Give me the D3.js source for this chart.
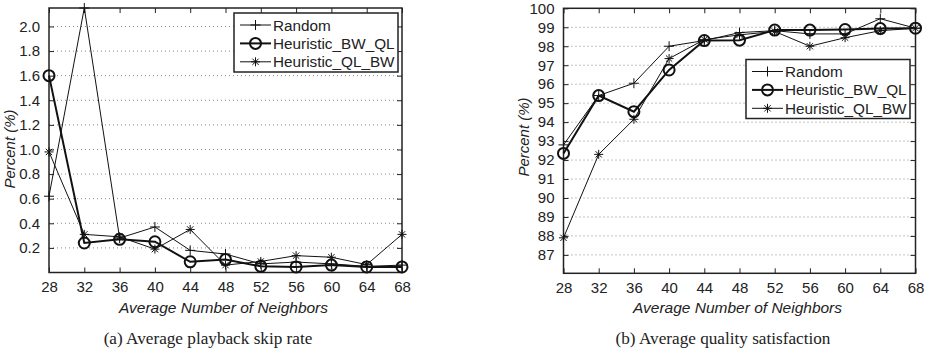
<!DOCTYPE html>
<html>
<head>
<meta charset="utf-8">
<style>
  body { margin: 0; background: #fff; }
  svg text { fill: #222; }
</style>
</head>
<body>
<div id="chart"></div>
<script src="https://d3js.org/d3.v7.min.js"></script>
<script>
    // x values shared by both panels
    const neighbors = [28, 32, 36, 40, 44, 48, 52, 56, 60, 64, 68];

    // (a) playback skip rate, percent
    const skipRandom = [0.62, 2.15, 0.28, 0.37, 0.18, 0.15, 0.07, 0.085, 0.07, 0.05, 0.06];
    const skipBwQl   = [1.60, 0.24, 0.27, 0.25, 0.087, 0.105, 0.05, 0.045, 0.06, 0.045, 0.045];
    const skipQlBw   = [0.98, 0.31, 0.29, 0.19, 0.35, 0.06, 0.09, 0.137, 0.124, 0.064, 0.31];

    // (b) quality satisfaction, percent
    const qualRandom = [92.8, 95.4, 96.05, 98.0, 98.3, 98.72, 98.82, 98.65, 98.65, 99.45, 98.95];
    const qualBwQl   = [92.35, 95.4, 94.55, 96.75, 98.3, 98.32, 98.85, 98.85, 98.88, 98.93, 98.95];
    const qualQlBw   = [87.9, 92.3, 94.15, 97.35, 98.35, 98.6, 98.78, 98.0, 98.45, 98.82, 98.95];

    const skipTicks = [0.2, 0.4, 0.6, 0.8, 1.0, 1.2, 1.4, 1.6, 1.8, 2.0];
    const qualTicks = [87, 88, 89, 90, 91, 92, 93, 94, 95, 96, 97, 98, 99, 100];

    const seriesNames = ['Random', 'Heuristic_BW_QL', 'Heuristic_QL_BW'];
    const seriesMarkers = ['plus', 'circle', 'star'];
    const seriesWidths = [1, 2, 1];

    const svg = d3.select('#chart')
        .append('svg')
        .attr('width', 929)
        .attr('height', 350);

    function drawMarker(g, type, x, y) {
        if (type === 'plus') {
            g.append('path')
                .attr('d', `M${x - 5},${y}H${x + 5}M${x},${y - 5}V${y + 5}`)
                .attr('stroke', '#111').attr('stroke-width', 1);
        } else if (type === 'circle') {
            g.append('circle')
                .attr('cx', x).attr('cy', y).attr('r', 5.5)
                .attr('fill', 'none').attr('stroke', '#111').attr('stroke-width', 2);
        } else {
            const r = 4.5, d = r * 0.7;
            g.append('path')
                .attr('d', `M${x - r},${y}H${x + r}M${x},${y - r}V${y + r}` +
                    `M${x - d},${y - d}L${x + d},${y + d}M${x - d},${y + d}L${x + d},${y - d}`)
                .attr('stroke', '#111').attr('stroke-width', 1);
        }
    }

    function drawPanel(opt) {
        const x = d3.scaleLinear().domain([28, 68]).range([opt.left, opt.right]);
        const y = d3.scaleLinear().domain(opt.yDomain).range([opt.bottom, opt.top]);
        const g = svg.append('g');

        // horizontal dotted grid
        g.selectAll('.grid')
            .data(opt.yTicks.filter(t => t < opt.yDomain[1]))
            .enter().append('line')
            .attr('x1', opt.left).attr('x2', opt.right)
            .attr('y1', d => y(d)).attr('y2', d => y(d))
            .attr('stroke', '#888').attr('stroke-width', 1)
            .attr('stroke-dasharray', '1,3');

        // axes
        const xAxis = d3.axisBottom(x).tickValues(neighbors).tickSize(-5).tickPadding(9);
        const xAxisTop = d3.axisTop(x).tickValues(neighbors).tickSize(-5).tickFormat('');
        const yAxis = d3.axisLeft(y).tickValues(opt.yTicks).tickSize(-5).tickPadding(9)
            .tickFormat(opt.yFormat);
        const yAxisRight = d3.axisRight(y).tickValues(opt.yTicks).tickSize(-5).tickFormat('');

        [[xAxis, `translate(0,${opt.bottom})`], [xAxisTop, `translate(0,${opt.top})`],
         [yAxis, `translate(${opt.left},0)`], [yAxisRight, `translate(${opt.right},0)`]]
            .forEach(([ax, tr]) => {
                const a = g.append('g').attr('transform', tr).call(ax);
                a.select('.domain').remove();
                a.selectAll('line').attr('stroke', '#222');
                a.selectAll('text').attr('font-family', 'Liberation Sans, Arial, sans-serif')
                    .attr('font-size', 15).attr('fill', '#222');
            });

        g.append('rect')
            .attr('x', opt.left).attr('y', opt.top)
            .attr('width', opt.right - opt.left).attr('height', opt.bottom - opt.top)
            .attr('fill', 'none').attr('stroke', '#222').attr('stroke-width', 1.5);

        // series lines and markers
        const line = d3.line().x((d, i) => x(neighbors[i])).y(d => y(d));
        opt.series.forEach((vals, si) => {
            g.append('path')
                .datum(vals)
                .attr('d', line)
                .attr('fill', 'none')
                .attr('stroke', '#111')
                .attr('stroke-width', seriesWidths[si]);
            vals.forEach((v, i) => drawMarker(g, seriesMarkers[si], x(neighbors[i]), y(v)));
        });

        // labels
        g.append('text')
            .attr('transform', `translate(${opt.yLabelX},${opt.yLabelY}) rotate(-90)`)
            .attr('text-anchor', 'middle')
            .attr('font-family', 'Liberation Sans, Arial, sans-serif')
            .attr('font-style', 'italic').attr('font-size', 15)
            .text('Percent (%)');

        g.append('text')
            .attr('x', (opt.left + opt.right) / 2 - 2).attr('y', 313)
            .attr('text-anchor', 'middle')
            .attr('font-family', 'Liberation Sans, Arial, sans-serif')
            .attr('font-style', 'italic').attr('font-size', 15.5)
            .text('Average Number of Neighbors');

        g.append('text')
            .attr('x', opt.captionX).attr('y', 344)
            .attr('text-anchor', 'middle')
            .attr('font-family', 'Liberation Serif, Times New Roman, serif')
            .attr('font-size', 17.2)
            .text(opt.caption);

        // legend
        const lg = g.append('g').attr('transform', `translate(${opt.legend[0]},${opt.legend[1]})`);
        lg.append('rect')
            .attr('width', 164).attr('height', 59)
            .attr('fill', '#fff').attr('stroke', '#222').attr('stroke-width', 1.5);
        seriesNames.forEach((name, i) => {
            const ly = 12 + i * 18.4;
            lg.append('line')
                .attr('x1', 6).attr('x2', 37).attr('y1', ly).attr('y2', ly)
                .attr('stroke', '#111').attr('stroke-width', seriesWidths[i]);
            drawMarker(lg, seriesMarkers[i], 21.5, ly);
            lg.append('text')
                .attr('x', 39).attr('y', ly + 5.5)
                .attr('font-family', 'Liberation Sans, Arial, sans-serif')
                .attr('font-size', 15.3)
                .text(name);
        });
    }

    drawPanel({
        left: 49, right: 402, top: 8, bottom: 272.5,
        yDomain: [0, 2.15], yTicks: skipTicks, yFormat: d3.format('.1f'),
        series: [skipRandom, skipBwQl, skipQlBw],
        yLabelX: 15, yLabelY: 149,
        caption: '(a) Average playback skip rate', captionX: 208,
        legend: [234, 13]
    });

    drawPanel({
        left: 563.5, right: 915.5, top: 8.3, bottom: 273.3,
        yDomain: [86.03, 100], yTicks: qualTicks, yFormat: d3.format('d'),
        series: [qualRandom, qualBwQl, qualQlBw],
        yLabelX: 529, yLabelY: 137,
        caption: '(b) Average quality satisfaction', captionX: 723,
        legend: [746, 59.5]
    });
</script>
</body>
</html>
